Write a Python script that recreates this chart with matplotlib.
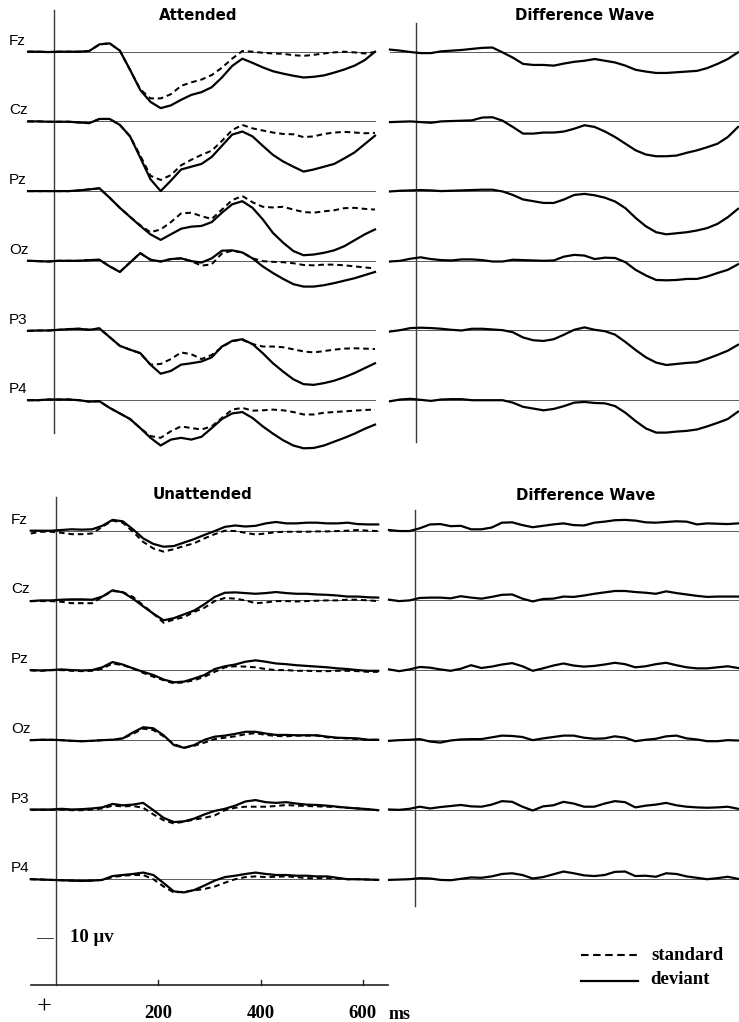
import matplotlib
matplotlib.use("Agg")
import matplotlib.pyplot as plt
from matplotlib.lines import Line2D

# ---------------- data (μV, positive plotted downward) ----------------
TIME_MS = [-50, -30, -10, 10, 30, 50, 70, 90, 110, 130, 150, 170, 190, 210, 230,
           250, 270, 290, 310, 330, 350, 370, 390, 410, 430, 450, 470, 490, 510,
           530, 550, 570, 590, 610, 630]
CHANNELS = ["Fz", "Cz", "Pz", "Oz", "P3", "P4"]

# Attended – deviant
ATT_DEV_FZ = [0, 0, 0.05, 0, 0, 0, -0.1, -1.05, -1.2, -0.15, 2.6, 5.5, 7.2, 8.1, 7.7, 6.9, 6.2, 5.8, 5.1, 3.7, 2.05, 1.0, 1.6, 2.25, 2.8, 3.15, 3.45, 3.7, 3.6, 3.4, 3.0, 2.55, 2.0, 1.2, 0]
ATT_DEV_CZ = [0, 0, 0.05, 0.05, 0.05, 0.15, 0.25, -0.35, -0.35, 0.5, 2.15, 5.2, 8.3, 10.0, 8.5, 6.9, 6.5, 6.1, 5.1, 3.5, 1.9, 1.45, 2.15, 3.5, 4.8, 5.75, 6.5, 7.2, 6.9, 6.5, 6.1, 5.3, 4.45, 3.25, 2.05]
ATT_DEV_PZ = [0, 0, 0, 0, 0, -0.1, -0.25, -0.4, 0.95, 2.4, 3.7, 5.0, 6.2, 7.0, 6.2, 5.4, 5.1, 5.0, 4.45, 3.1, 1.9, 1.45, 2.4, 4.05, 6.0, 7.4, 8.6, 9.2, 9.1, 8.85, 8.5, 7.9, 7.05, 6.2, 5.5]
ATT_DEV_OZ = [0, 0.05, 0.1, 0, 0, 0, -0.1, -0.15, 0.8, 1.6, 0.25, -1.1, -0.15, 0.1, -0.25, -0.35, 0.05, 0.25, -0.35, -1.45, -1.5, -1.2, -0.35, 0.8, 1.75, 2.6, 3.35, 3.7, 3.7, 3.5, 3.2, 2.85, 2.5, 2.05, 1.6]
ATT_DEV_P3 = [0.05, 0, 0, -0.1, -0.2, -0.25, -0.1, -0.3, 0.95, 2.2, 2.75, 3.25, 4.9, 6.2, 5.8, 4.9, 4.7, 4.45, 3.85, 2.3, 1.5, 1.25, 1.95, 3.25, 4.7, 5.9, 7.0, 7.7, 7.8, 7.55, 7.2, 6.7, 6.1, 5.4, 4.7]
ATT_DEV_P4 = [0, 0, -0.1, -0.1, -0.1, 0, 0.2, 0.15, 1.1, 1.9, 2.7, 4.0, 5.4, 6.5, 5.65, 5.4, 5.65, 5.25, 4.0, 2.7, 1.9, 1.7, 2.55, 3.75, 4.8, 5.75, 6.5, 6.9, 6.85, 6.5, 5.95, 5.4, 4.8, 4.1, 3.5]

# Attended – standard
ATT_STD_FZ = [0, 0, 0.05, 0, 0, 0, -0.1, -1.05, -1.2, -0.15, 2.6, 5.4, 6.7, 6.7, 6.1, 4.9, 4.4, 4.0, 3.35, 2.3, 1.0, -0.1, 0, 0.15, 0.25, 0.3, 0.5, 0.6, 0.45, 0.25, 0.1, 0, 0.1, 0.25, 0.05]
ATT_STD_CZ = [0, 0, 0.05, 0.05, 0.05, 0.15, 0.25, -0.35, -0.35, 0.5, 2.15, 4.9, 7.8, 8.4, 7.7, 6.3, 5.5, 4.8, 4.2, 2.8, 1.25, 0.5, 1.0, 1.3, 1.6, 1.8, 1.85, 2.25, 2.15, 1.8, 1.6, 1.5, 1.6, 1.7, 1.65]
ATT_STD_PZ = [0, 0, 0, 0, 0, -0.1, -0.25, -0.4, 0.95, 2.4, 3.7, 4.9, 5.9, 5.5, 4.45, 3.2, 3.1, 3.6, 4.0, 2.65, 1.3, 0.7, 1.6, 2.25, 2.35, 2.25, 2.65, 3.0, 3.1, 2.9, 2.75, 2.45, 2.4, 2.55, 2.65]
ATT_STD_OZ = [0, 0.05, 0.1, 0, 0, 0, -0.1, -0.15, 0.8, 1.6, 0.25, -1.1, -0.15, 0.1, -0.25, -0.35, 0.05, 0.7, 0.5, -1.05, -1.45, -1.2, -0.35, 0.05, 0.15, 0.2, 0.35, 0.6, 0.65, 0.55, 0.55, 0.65, 0.8, 0.95, 1.1]
ATT_STD_P3 = [0.05, 0, 0, -0.1, -0.2, -0.25, -0.1, -0.3, 0.95, 2.2, 2.75, 3.25, 4.9, 4.8, 4.1, 3.15, 3.4, 4.1, 3.5, 2.4, 1.5, 1.35, 1.95, 2.3, 2.3, 2.4, 2.7, 3.0, 3.15, 2.95, 2.75, 2.6, 2.55, 2.6, 2.65]
ATT_STD_P4 = [0, 0, -0.1, -0.1, -0.1, 0, 0.2, 0.15, 1.1, 1.9, 2.7, 4.0, 5.15, 5.4, 4.45, 3.75, 4.0, 4.2, 3.75, 2.55, 1.35, 1.1, 1.5, 1.45, 1.35, 1.45, 1.7, 2.05, 2.05, 1.8, 1.7, 1.6, 1.5, 1.4, 1.35]

# Attended – difference wave
ATT_DIFF_FZ = [-0.3, -0.15, 0.05, 0.2, 0.2, -0.05, -0.15, -0.25, -0.4, -0.55, -0.6, 0.1, 0.85, 1.75, 1.9, 1.9, 2.0, 1.7, 1.45, 1.3, 1.05, 1.3, 1.55, 2.0, 2.6, 2.85, 3.05, 3.05, 2.95, 2.85, 2.75, 2.35, 1.75, 1.05, 0.1]
ATT_DIFF_CZ = [0.1, 0.05, 0, 0.1, 0.2, 0, -0.05, -0.1, -0.15, -0.55, -0.6, -0.1, 0.8, 1.75, 1.75, 1.6, 1.6, 1.45, 1.05, 0.55, 0.8, 1.45, 2.25, 3.2, 4.15, 4.75, 5.0, 5.0, 4.9, 4.5, 4.15, 3.7, 3.2, 2.25, 0.8]
ATT_DIFF_PZ = [0.05, -0.05, -0.1, -0.15, -0.1, 0, -0.05, -0.1, -0.15, -0.2, -0.2, 0.05, 0.55, 1.2, 1.45, 1.7, 1.7, 1.2, 0.55, 0.4, 0.6, 0.95, 1.5, 2.45, 3.85, 5.05, 5.9, 6.2, 6.05, 5.9, 5.65, 5.3, 4.7, 3.75, 2.55]
ATT_DIFF_OZ = [0.1, 0, -0.3, -0.5, -0.25, -0.1, -0.05, -0.2, -0.2, -0.1, 0.1, 0.1, -0.15, -0.1, -0.05, 0, -0.05, -0.6, -0.85, -0.75, -0.25, -0.45, -0.4, 0.2, 1.3, 2.1, 2.75, 2.8, 2.75, 2.6, 2.6, 2.25, 1.75, 1.3, 0.5]
ATT_DIFF_P3 = [0.15, -0.05, -0.35, -0.4, -0.35, -0.25, -0.1, 0, -0.25, -0.25, -0.15, -0.05, 0.25, 1.0, 1.4, 1.5, 1.25, 0.6, -0.1, -0.45, -0.1, 0.1, 0.6, 1.65, 2.8, 3.85, 4.6, 4.95, 4.8, 4.65, 4.55, 4.05, 3.5, 2.9, 2.05]
ATT_DIFF_P4 = [0.15, -0.1, -0.2, -0.05, 0.1, -0.1, -0.15, -0.15, 0, 0, 0, 0, 0.35, 0.95, 1.2, 1.45, 1.25, 0.85, 0.35, 0.25, 0.4, 0.45, 0.85, 1.8, 3.0, 4.05, 4.65, 4.65, 4.5, 4.4, 4.2, 3.75, 3.25, 2.7, 1.65]

# Unattended – deviant
UNATT_DEV_FZ = [0, 0, 0, -0.1, -0.2, -0.15, -0.2, -0.7, -1.55, -1.35, -0.2, 1.1, 1.9, 2.3, 2.2, 1.7, 1.2, 0.6, 0.05, -0.55, -0.75, -0.6, -0.7, -1.05, -1.25, -1.05, -1.05, -1.15, -1.15, -1.05, -1.05, -1.15, -0.95, -0.9, -0.9]
UNATT_DEV_CZ = [0.1, 0, 0, -0.1, -0.15, -0.15, -0.1, -0.55, -1.45, -1.15, -0.25, 0.85, 1.9, 2.85, 2.55, 2.0, 1.45, 0.55, -0.5, -1.1, -1.15, -1.05, -0.95, -1.05, -1.2, -1.05, -0.95, -0.95, -0.85, -0.8, -0.7, -0.55, -0.55, -0.45, -0.4]
UNATT_DEV_PZ = [0, 0.05, 0, -0.1, 0, 0.05, 0, -0.4, -1.15, -0.8, -0.25, 0.25, 0.7, 1.35, 1.75, 1.65, 1.2, 0.7, -0.15, -0.55, -0.8, -1.2, -1.4, -1.2, -0.95, -0.85, -0.7, -0.6, -0.5, -0.4, -0.25, -0.15, 0, 0.1, 0.1]
UNATT_DEV_OZ = [0.05, 0, 0, 0.05, 0.15, 0.2, 0.15, 0.05, 0, -0.2, -1.05, -1.8, -1.65, -0.65, 0.75, 1.15, 0.75, 0, -0.45, -0.6, -0.85, -1.15, -1.15, -0.9, -0.7, -0.7, -0.65, -0.65, -0.65, -0.45, -0.3, -0.25, -0.2, 0, 0]
UNATT_DEV_P3 = [0, 0, 0, -0.1, 0, -0.05, -0.15, -0.3, -0.8, -0.6, -0.7, -0.95, 0.1, 1.2, 1.8, 1.7, 1.3, 0.7, 0.2, -0.1, -0.55, -1.15, -1.35, -1.05, -0.95, -1.05, -0.85, -0.7, -0.65, -0.55, -0.4, -0.25, -0.15, -0.05, 0.1]
UNATT_DEV_P4 = [0, 0.05, 0.1, 0.15, 0.2, 0.25, 0.2, 0.1, -0.45, -0.6, -0.75, -0.95, -0.6, 0.55, 1.75, 1.9, 1.55, 0.9, 0.2, -0.3, -0.5, -0.75, -0.95, -0.75, -0.6, -0.6, -0.5, -0.5, -0.4, -0.4, -0.2, 0, 0, 0.05, 0.1]

# Unattended – standard
UNATT_STD_FZ = [0.4, 0.15, 0.15, 0.3, 0.5, 0.5, 0.4, -0.55, -1.45, -1.15, 0.15, 1.6, 2.55, 3.0, 2.65, 2.2, 1.8, 1.1, 0.5, 0, 0.05, 0.3, 0.55, 0.4, 0.2, 0.15, 0.15, 0.15, 0.1, 0.1, 0.05, 0, -0.1, 0, 0.05]
UNATT_STD_CZ = [0.1, 0.1, 0.1, 0.2, 0.4, 0.4, 0.4, -0.5, -1.35, -1.2, -0.5, 0.7, 1.9, 3.2, 2.75, 2.4, 1.65, 1.05, 0.1, -0.35, -0.25, 0, 0.4, 0.3, 0.1, 0.1, 0.15, 0.1, 0.05, 0, 0, -0.1, -0.1, 0, 0.1]
UNATT_STD_PZ = [0.05, 0.1, 0, 0, 0.1, 0.15, 0.1, -0.2, -0.95, -0.7, -0.25, 0.4, 0.95, 1.45, 1.9, 1.75, 1.45, 0.95, 0.25, -0.4, -0.55, -0.5, -0.4, -0.15, 0, 0, 0.1, 0.1, 0.15, 0.15, 0.1, 0.1, 0.15, 0.25, 0.25]
UNATT_STD_OZ = [0.05, 0, 0, 0.05, 0.15, 0.2, 0.15, 0.05, 0, -0.2, -0.85, -1.6, -1.4, -0.5, 0.6, 1.15, 0.85, 0.4, -0.1, -0.3, -0.5, -0.8, -0.95, -0.7, -0.55, -0.5, -0.6, -0.6, -0.6, -0.35, -0.25, -0.2, -0.1, 0, 0]
UNATT_STD_P3 = [0.05, 0.05, 0.05, 0, 0.1, 0.1, 0, -0.15, -0.55, -0.45, -0.5, -0.25, 0.7, 1.55, 2.0, 1.75, 1.45, 1.2, 0.85, 0.1, -0.25, -0.4, -0.4, -0.4, -0.5, -0.65, -0.55, -0.5, -0.45, -0.4, -0.35, -0.25, -0.15, 0, 0.1]
UNATT_STD_P4 = [0, 0.05, 0.1, 0.15, 0.2, 0.25, 0.2, 0.1, -0.3, -0.5, -0.6, -0.6, 0, 1.05, 1.9, 1.8, 1.6, 1.4, 1.05, 0.5, 0, -0.3, -0.4, -0.3, -0.35, -0.4, -0.3, -0.15, -0.15, -0.15, -0.1, 0, 0, 0.05, 0.1]

# Unattended – difference wave
UNATT_DIFF_FZ = [-0.1, 0.05, 0.05, -0.35, -0.9, -0.95, -0.65, -0.7, -0.2, -0.2, -0.45, -1.15, -1.2, -0.8, -0.5, -0.7, -0.9, -1.05, -0.8, -0.75, -1.15, -1.3, -1.5, -1.55, -1.45, -1.2, -1.15, -1.25, -1.35, -1.3, -0.9, -1.05, -1.0, -0.95, -1.05]
UNATT_DIFF_CZ = [-0.1, 0.1, 0, -0.35, -0.4, -0.4, -0.3, -0.6, -0.4, -0.25, -0.5, -0.8, -0.85, -0.25, 0.15, -0.2, -0.25, -0.55, -0.5, -0.7, -0.95, -1.15, -1.35, -1.35, -1.2, -1.1, -0.95, -1.3, -1.05, -0.85, -0.65, -0.5, -0.55, -0.55, -0.55]
UNATT_DIFF_PZ = [-0.1, 0.15, -0.1, -0.45, -0.35, -0.1, 0.1, -0.2, -0.7, -0.3, -0.5, -0.8, -1.0, -0.55, 0.1, -0.25, -0.65, -0.95, -0.65, -0.5, -0.6, -0.8, -1.05, -0.85, -0.4, -0.55, -0.85, -1.05, -0.7, -0.4, -0.25, -0.25, -0.4, -0.55, -0.3]
UNATT_DIFF_OZ = [0.15, 0.05, 0, -0.1, 0.25, 0.4, 0.1, -0.05, -0.1, -0.1, -0.35, -0.6, -0.55, -0.4, 0.05, -0.2, -0.4, -0.6, -0.6, -0.3, -0.15, -0.2, -0.5, -0.3, 0.2, 0, -0.15, -0.5, -0.6, -0.2, -0.05, 0.2, 0.2, 0.05, 0.1]
UNATT_DIFF_P3 = [0, 0.05, -0.1, -0.4, -0.15, -0.35, -0.5, -0.65, -0.45, -0.4, -0.7, -1.2, -1.1, -0.4, 0.15, -0.45, -0.6, -1.1, -0.85, -0.4, -0.4, -0.85, -1.2, -1.05, -0.3, -0.55, -0.7, -0.95, -0.6, -0.4, -0.3, -0.25, -0.3, -0.4, -0.1]
UNATT_DIFF_P4 = [0.1, 0.05, 0, -0.15, -0.1, 0.1, 0.15, -0.05, -0.25, -0.2, -0.4, -0.75, -0.85, -0.6, -0.1, -0.3, -0.7, -1.1, -0.85, -0.55, -0.45, -0.6, -1.05, -1.1, -0.45, -0.5, -0.35, -0.85, -0.75, -0.4, -0.2, 0, -0.15, -0.35, -0.05]

X_TICKS = [200, 400, 600]
SCALE_UV = 10

ATT_DEV = [ATT_DEV_FZ, ATT_DEV_CZ, ATT_DEV_PZ, ATT_DEV_OZ, ATT_DEV_P3, ATT_DEV_P4]
ATT_STD = [ATT_STD_FZ, ATT_STD_CZ, ATT_STD_PZ, ATT_STD_OZ, ATT_STD_P3, ATT_STD_P4]
ATT_DIFF = [ATT_DIFF_FZ, ATT_DIFF_CZ, ATT_DIFF_PZ, ATT_DIFF_OZ, ATT_DIFF_P3, ATT_DIFF_P4]
UNATT_DEV = [UNATT_DEV_FZ, UNATT_DEV_CZ, UNATT_DEV_PZ, UNATT_DEV_OZ, UNATT_DEV_P3, UNATT_DEV_P4]
UNATT_STD = [UNATT_STD_FZ, UNATT_STD_CZ, UNATT_STD_PZ, UNATT_STD_OZ, UNATT_STD_P3, UNATT_STD_P4]
UNATT_DIFF = [UNATT_DIFF_FZ, UNATT_DIFF_CZ, UNATT_DIFF_PZ, UNATT_DIFF_OZ, UNATT_DIFF_P3, UNATT_DIFF_P4]

# ---------------- layout ----------------
W, H = 739, 1022
PX_PER_UV = 6.97
SPACING = 10  # μV between channel baselines

fig = plt.figure(figsize=(W / 100, H / 100), dpi=100)
fig.patch.set_facecolor("white")

SANS = ["Liberation Sans", "DejaVu Sans"]
SERIF = ["Liberation Serif", "DejaVu Serif"]


def make_axes(x0, x1, y0, y1, base):
    ax = fig.add_axes([x0 / W, 1 - y1 / H, (x1 - x0) / W, (y1 - y0) / H])
    ax.set_xlim(TIME_MS[0], TIME_MS[-1])
    ax.set_ylim((y1 - base) / PX_PER_UV, (y0 - base) / PX_PER_UV)
    ax.axis("off")
    return ax


def draw_panel(ax, vline, label_dx, dev=None, std=None, diff=None, labels=True):
    ax.plot([0, 0], vline, color="#3a3a3a", lw=1.0, clip_on=False, zorder=1)
    for k, name in enumerate(CHANNELS):
        off = k * SPACING
        ax.plot([TIME_MS[0], TIME_MS[-1]], [off, off], color="#5a5a5a", lw=0.7,
                zorder=1, clip_on=False)
        if std is not None:
            ax.plot(TIME_MS, [v + off for v in std[k]], color="black", lw=1.45,
                    dashes=(2.8, 1.9), zorder=2, clip_on=False)
        if dev is not None:
            ax.plot(TIME_MS, [v + off for v in dev[k]], color="black", lw=1.6,
                    zorder=3, clip_on=False)
        if diff is not None:
            ax.plot(TIME_MS, [v + off for v in diff[k]], color="black", lw=1.6,
                    zorder=3, clip_on=False)
        if labels:
            ax.annotate(name, xy=(TIME_MS[0], off), xytext=(label_dx, 4),
                        textcoords="offset pixels", ha="left", va="bottom",
                        fontsize=11, family=SANS)


# Attended
ax_a = make_axes(28, 375, 0, 470, 51.7)
draw_panel(ax_a, (-6.0, 54.7), -19, dev=ATT_DEV, std=ATT_STD)
# Attended difference
ax_ad = make_axes(390, 738, 0, 470, 51.7)
draw_panel(ax_ad, (-4.1, 56.0), 0, diff=ATT_DIFF, labels=False)
# Unattended
ax_u = make_axes(30.75, 378.2, 470, 1022, 530.7)
draw_panel(ax_u, (-4.8, 65.2), -20, dev=UNATT_DEV, std=UNATT_STD)
# Unattended difference
ax_ud = make_axes(389, 738, 470, 1022, 530.7)
draw_panel(ax_ud, (-3.0, 53.9), 0, diff=UNATT_DIFF, labels=False)

# time axis on the unattended panel
AX_Y = 65.2
ax_u.plot([-50, 650], [AX_Y, AX_Y], color="#222222", lw=1.2, clip_on=False)
for t in X_TICKS:
    ax_u.plot([t, t], [AX_Y, AX_Y - 0.75], color="#222222", lw=1.0, clip_on=False)
    ax_u.text(t, 69.9, str(t), ha="center", va="baseline", fontsize=13.5,
              family=SERIF, weight="bold")
ax_u.text(651, 70.1, "ms", ha="left", va="baseline", fontsize=13,
          family=SERIF, weight="bold")

# voltage scale marks
ax_u.text(-24, 58.4, "\u2014", ha="center", va="center", fontsize=12, family=SERIF)
ax_u.text(-24, 58.4 + SCALE_UV, "+", ha="center", va="center", fontsize=19, family=SERIF)
ax_u.text(27, 58.4, f"{SCALE_UV} \u03bcv", ha="left", va="center", fontsize=13.5,
          family=SERIF, weight="bold")

# titles
TITLE_KW = dict(ha="center", va="center", fontsize=10.8, weight="bold", family=["DejaVu Sans"])
fig.text(198 / W, 1 - 15 / H, "Attended", **TITLE_KW)
fig.text(585 / W, 1 - 15 / H, "Difference Wave", **TITLE_KW)
fig.text(202 / W, 1 - 494 / H, "Unattended", **TITLE_KW)
fig.text(586 / W, 1 - 495 / H, "Difference Wave", **TITLE_KW)

# legend
fig.add_artist(Line2D([580.7 / W, 637.7 / W], [1 - 955 / H] * 2, color="black",
                      lw=1.5, dashes=(3.6, 2.2), transform=fig.transFigure))
fig.add_artist(Line2D([580.7 / W, 637.7 / W], [1 - 980.7 / H] * 2, color="black",
                      lw=1.6, transform=fig.transFigure))
fig.text(651 / W, 1 - 955 / H, "standard", ha="left", va="center", fontsize=13.5,
         family=SERIF, weight="bold")
fig.text(650 / W, 1 - 980 / H, "deviant", ha="left", va="center", fontsize=13.5,
         family=SERIF, weight="bold")

fig.savefig("out.png", dpi=100, facecolor="white")
